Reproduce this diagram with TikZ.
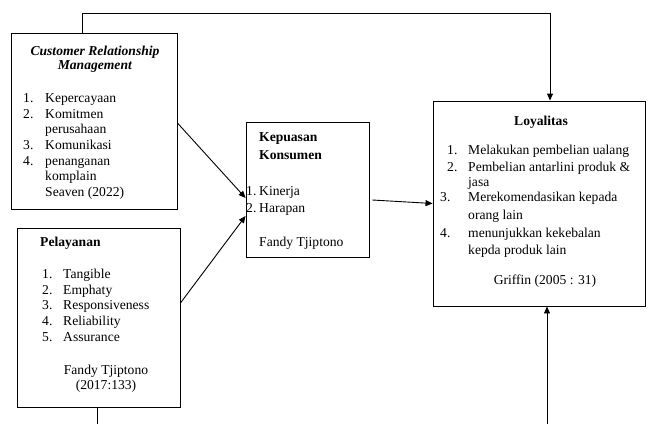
\documentclass[tikz,border=0pt]{standalone}
\usepackage{fontspec}
\setmainfont{Liberation Serif}
\usetikzlibrary{arrows.meta}
\tikzset{
  box/.style={draw=black, line width=0.9pt, rectangle, inner sep=0pt},
  tx/.style={inner sep=0pt, anchor=base west, font=\fontsize{13.6}{15.7}\selectfont},
  tc/.style={inner sep=0pt, anchor=base, font=\fontsize{13.6}{15.7}\selectfont},
  conn/.style={draw=black, line width=0.9pt},
  arr/.style={conn, -{Triangle[length=7pt,width=6pt]}}
}
\begin{document}
\begin{tikzpicture}[x=1pt,y=-1pt]
\useasboundingbox (0,0) rectangle (648,424);
% boxes
\node[box, minimum width=166pt, minimum height=176pt] (crm) at (94,121) {};
\node[box, minimum width=163pt, minimum height=179pt] (pel) at (98.5,317.5) {};
\node[box, minimum width=123pt, minimum height=135pt] (kep) at (307.5,189.5) {};
\node[box, minimum width=212pt, minimum height=205pt] (loy) at (539,203.5) {};
% CRM text
\node[tc] (crmt1) at (95,55) {\textbf{\textit{Customer Relationship}}};
\node[tc] (crmt2) at (95,69) {\textbf{\textit{Management}}};
\node[tx] (crmn1) at (23,102) {1.};
\node[tx] (crml1) at (45,102) {Kepercayaan};
\node[tx] (crmn2) at (23,118) {2.};
\node[tx] (crml2) at (45,118) {Komitmen};
\node[tx] (crml2b) at (45,133) {perusahaan};
\node[tx] (crmn3) at (23,149) {3.};
\node[tx] (crml3) at (45,149) {Komunikasi};
\node[tx] (crmn4) at (23,165) {4.};
\node[tx] (crml4) at (45,165) {penanganan};
\node[tx] (crml4b) at (45,180) {komplain};
\node[tx] (crmsrc) at (45,196) {Seaven (2022)};
% Pelayanan text
\node[tx] (pelt) at (40,246) {\textbf{Pelayanan}};
\node[tx] (peln1) at (42,278) {1.};
\node[tx] (pell1) at (63,278) {Tangible};
\node[tx] (peln2) at (42,294) {2.};
\node[tx] (pell2) at (63,294) {Emphaty};
\node[tx] (peln3) at (42,309) {3.};
\node[tx] (pell3) at (63,309) {Responsiveness};
\node[tx] (peln4) at (42,325) {4.};
\node[tx] (pell4) at (63,325) {Reliability};
\node[tx] (peln5) at (42,341) {5.};
\node[tx] (pell5) at (63,341) {Assurance};
\node[tc] (pels1) at (106,374) {Fandy Tjiptono};
\node[tc] (pels2) at (106,389) {(2017:133)};
% Kepuasan text
\node[tx] (kept1) at (259,141) {\textbf{Kepuasan}};
\node[tx] (kept2) at (259,159) {\textbf{Konsumen}};
\node[tx] (kepn1) at (246,195) {1.};
\node[tx] (kepl1) at (259,195) {Kinerja};
\node[tx] (kepn2) at (246,212) {2.};
\node[tx] (kepl2) at (259,212) {Harapan};
\node[tx] (keps) at (259,246) {Fandy Tjiptono};
% Loyalitas text
\node[tc] (loyt) at (541,125) {\textbf{Loyalitas}};
\node[tx] (loyn1) at (447,154) {1.};
\node[tx] (loyl1) at (468,154) {Melakukan pembelian ualang};
\node[tx] (loyn2) at (447,171) {2.};
\node[tx] (loyl2) at (468,171) {Pembelian antarlini produk \&};
\node[tx] (loyl2b) at (468,186) {jasa};
\node[tx] (loyn3) at (440,201) {3.};
\node[tx] (loyl3) at (468,201) {Merekomendasikan kepada};
\node[tx] (loyl3b) at (468,219) {orang lain};
\node[tx] (loyn4) at (440,237) {4.};
\node[tx] (loyl4) at (468,237) {menunjukkan kekebalan};
\node[tx] (loyl4b) at (468,254) {kepda produk lain};
\node[tc] (loys) at (545,284) {Griffin (2005 : 31)};
% connectors
\draw[arr] ([yshift=-2pt]crm.east) -- ([yshift=-8.5pt]kep.west);
\draw[arr] ([yshift=14.5pt]pel.east) -- ([yshift=-26.5pt]kep.west);
\draw[arr] ([shift={(3pt,-10.5pt)}]kep.east) -- (loy.west);
\coordinate (crmtop) at ([xshift=-12pt]crm.north);
\coordinate (loytop) at ([xshift=11pt]loy.north);
\coordinate (topline) at (0,13);
\draw[arr] (crmtop) -- (crmtop |- topline) -- (loytop |- topline) -- (loytop);
\coordinate (bottomedge) at (0,424);
\coordinate (pelbot) at ([xshift=-1.5pt]pel.south);
\coordinate (loybot) at ([xshift=8pt]loy.south);
\draw[conn] (pelbot) -- (pelbot |- bottomedge);
\draw[arr] (loybot |- bottomedge) -- (loybot);
\end{tikzpicture}
\end{document}
